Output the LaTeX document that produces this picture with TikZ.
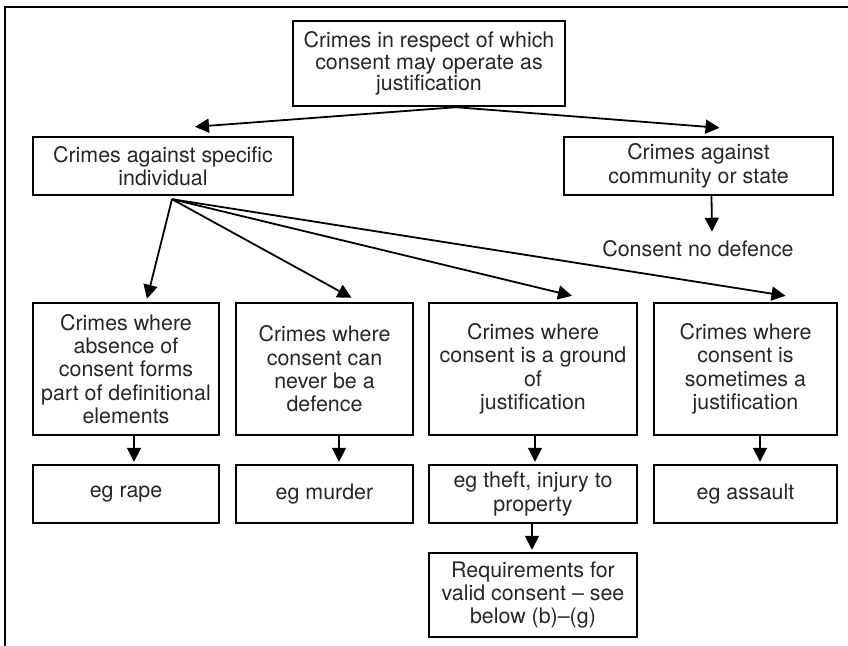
\documentclass[tikz,border=0pt]{standalone}
\usepackage{fontspec}
\setmainfont{TeX Gyre Heros}
\usepackage{tikz}
\usetikzlibrary{calc}
\usetikzlibrary{arrows.meta}
\tikzset{
	box/.style={draw, line width=1.2pt, align=center, inner sep=0pt,
			font=\fontsize{10.7}{11.7}\selectfont, text=black!85},
	arr/.style={line width=0.9pt, -{Triangle[length=7pt,width=7pt]}}
}

\begin{document}
\begin{tikzpicture}[x=0.5pt, y=-0.5pt]
			\useasboundingbox (0,0) rectangle (848,646);
			\draw[line width=1.2pt] (5,646) -- (5,7) -- (848,7);

			% top level
			\node[box, font=\fontsize{10.7}{10.9}\selectfont, minimum width=136pt, minimum height=42.5pt] (top) at (429,63.5)
				{Crimes in respect of which\\consent may operate as\\justification};
			\node[box, minimum width=130pt, minimum height=29pt] (indiv) at (163,166)
				{Crimes against specific\\individual};
			\node[box, minimum width=134.5pt, minimum height=29pt] (commun) at (698.5,166)
				{Crimes against\\community or state};
			\node[font=\fontsize{10.7}{11.7}\selectfont, text=black!85] (nodef) at (698,249)
				{Consent no defence};

			% the four kinds
			\node[box, minimum width=93pt, minimum height=66pt] (absence) at (126,369)
				{Crimes where\\absence of\\consent forms\\part of definitional\\elements};
			\node[box, minimum width=88.5pt, minimum height=66pt] (never) at (324.5,369)
				{Crimes where\\consent can\\never be a\\defence};
			\node[box, minimum width=104pt, minimum height=66pt] (ground) at (533,369)
				{Crimes where\\consent is a ground\\of\\justification};
			\node[box, minimum width=91.5pt, minimum height=66pt] (sometimes) at (745.5,369)
				{Crimes where\\consent is\\sometimes a\\justification};

			% examples
			\node[box, minimum width=93pt, minimum height=29pt] (rape) at (126,494) {eg rape};
			\node[box, minimum width=88.5pt, minimum height=29pt] (murder) at (324.5,494) {eg murder};
			\node[box, minimum width=104pt, minimum height=29pt] (theft) at (533,494)
				{eg theft, injury to\\property};
			\node[box, minimum width=91.5pt, minimum height=29pt] (assault) at (745.5,494) {eg assault};
			\node[box, minimum width=104pt, minimum height=42pt] (reqs) at (533,595)
				{Requirements for\\valid consent -- see\\below (b)--(g)};

			\draw[arr] ($(top.south)+(27,0)$) -- ($(indiv.north)+(32,-9)$);
			\draw[arr] ($(top.south)+(27,0)$) -- ($(commun.north)+(21,-8)$);
			\draw[arr] ($(commun.south)+(13,0)$) -- ($(nodef.north)+(14,-2)$);

			\draw[arr] ($(indiv.south)+(9,3)$) -- ($(absence.north)+(21,-3)$);
			\draw[arr] ($(indiv.south)+(9,3)$) -- ($(never.north)+(27,-4)$);
			\draw[arr] ($(indiv.south)+(9,3)$) -- ($(ground.north)+(39,-6)$);
			\draw[arr] ($(indiv.south)+(9,3)$) -- ($(sometimes.north)+(40,-6)$);

			\foreach \a/\b/\dx in {absence/rape/8, never/murder/14.5, ground/theft/2, sometimes/assault/14.5}
				\draw[arr] ($(\a.south)+(\dx,0)$) -- ($(\b.north)+(\dx,-2)$);
			\draw[arr] ($(theft.south)+(-1,0)$) -- ($(reqs.north)+(-1,-2)$);
		\end{tikzpicture}
\end{document}
